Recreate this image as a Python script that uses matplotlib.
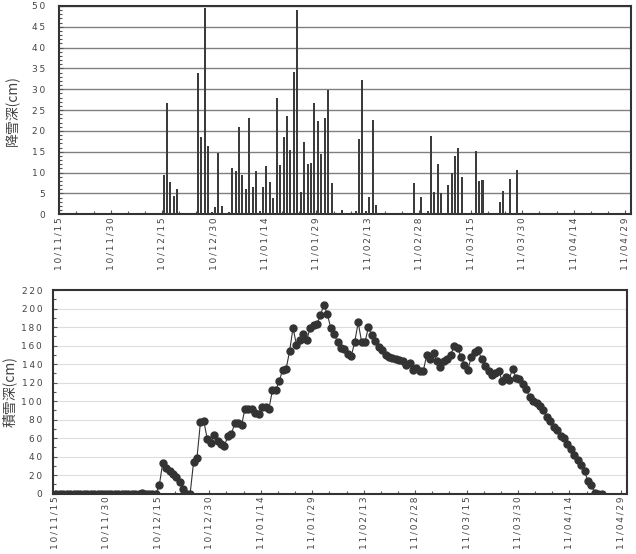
import numpy as np
import matplotlib
matplotlib.use("Agg")
import matplotlib.pyplot as plt
from matplotlib.ticker import MultipleLocator, FuncFormatter

# ==== Data (day index 0 = 2010/11/15) ====
DATE_LABELS = ["10/11/15", "10/11/30", "10/12/15", "10/12/30", "11/01/14", "11/01/29",
               "11/02/13", "11/02/28", "11/03/15", "11/03/30", "11/04/14", "11/04/29"]
LABEL_DAYS = [0, 15, 30, 45, 60, 75, 90, 105, 120, 135, 150, 165]

# daily snowfall (cm)
SNOW_DAY = [30, 31, 32, 33, 34,
            40, 41, 42, 43, 44, 45, 46, 47, 48, 49,
            50, 51, 52, 53, 54, 55, 56, 57, 58, 59,
            60, 61, 62, 63, 64, 65, 66, 67, 68, 69,
            70, 71, 72, 73, 74, 75, 76, 77, 78, 79,
            81, 82, 83, 86, 87, 88, 89, 90, 91, 92,
            103, 105, 107, 108, 109, 110, 111, 113, 114, 115, 116, 117,
            121, 122, 123, 128, 129, 131, 132, 133]
SNOW_CM = [9.5, 26.8, 7.7, 4.4, 6.0,
           33.8, 18.5, 49.5, 16.5, 0.5, 1.7, 14.6, 2.0, 0.4, 0.5,
           11.0, 10.3, 21.0, 9.5, 6.0, 23.0, 6.5, 10.5, 0.8, 6.6,
           11.6, 7.8, 3.9, 28.0, 11.8, 18.5, 23.5, 15.5, 34.2, 49.0,
           5.3, 17.3, 12.0, 12.2, 26.8, 22.4, 14.5, 23.0, 29.8, 7.4,
           0.4, 1.1, 0.3, 0.9, 18.0, 32.2, 0.8, 4.1, 22.6, 2.2,
           7.4, 4.2, 0.8, 18.8, 5.3, 12.1, 5.1, 7.0, 9.8, 13.9, 15.8, 8.9,
           15.2, 8.0, 8.2, 3.0, 5.7, 8.5, 0.4, 10.6]

# daily snow depth (cm), days 0..159
DEPTH = ([0] * 25 + [1] + [0] * 4 +
         [9, 33, 28, 24, 21, 18, 13, 5, 0, 0,
          34, 39, 77, 78, 59, 55, 63, 57, 54, 52,
          62, 64, 76, 76, 74, 92, 91, 91, 87, 86,
          94, 94, 92, 112, 112, 122, 134, 135, 154, 179,
          161, 166, 172, 166, 179, 182, 183, 193, 204, 194,
          179, 172, 164, 157, 156, 151, 149, 164, 185, 164,
          164, 180, 171, 165, 158, 155, 150, 148, 147, 145,
          144, 143, 139, 141, 134, 136, 133, 133, 150, 145,
          152, 143, 137, 143, 146, 150, 160, 157, 148, 139,
          134, 148, 153, 155, 145, 138, 132, 128, 130, 132,
          122, 126, 123, 135, 125, 124, 118, 113, 104, 100,
          98, 95, 90, 83, 78, 72, 69, 62, 60, 54,
          48, 42, 36, 31, 24, 14, 9, 1, 0, 0])

JP_FONT = ["Noto Sans CJK JP", "DejaVu Sans"]
TEXT_C = "#444444"
DARK = "#333333"


def spaced(s):
    return "\u2009".join(s)


def style_axis(ax, ypad):
    ax.set_xticks(LABEL_DAYS)
    ax.set_xticklabels([spaced(s) for s in DATE_LABELS], rotation=90)
    ax.xaxis.set_minor_locator(MultipleLocator(5))
    ax.yaxis.set_major_formatter(FuncFormatter(lambda v, p: spaced(str(int(v)))))
    ax.tick_params(which="both", direction="in", color="#555555", labelcolor=TEXT_C,
                   labelsize=6.5, top=False, right=False)
    ax.tick_params(which="major", length=3, width=0.8)
    ax.tick_params(which="minor", length=2.5, width=0.8)
    ax.tick_params(axis="y", pad=ypad)
    ax.tick_params(axis="x", pad=2)
    for sp in ax.spines.values():
        sp.set_color(DARK)
        sp.set_linewidth(1.5)
    ax.set_axisbelow(True)


fig = plt.figure(figsize=(6.36, 5.54), dpi=100)

# ==== Top: daily snowfall ====
ax1 = fig.add_axes([0.0932, 0.6132, 0.8989, 0.376])
ax1.bar(np.array(SNOW_DAY) + 0.4, SNOW_CM, width=0.6, color="#3c3c3c", zorder=3)
ax1.set_xlim(0, 166.7)
ax1.set_ylim(0, 50)
ax1.yaxis.set_major_locator(MultipleLocator(5))
ax1.yaxis.set_minor_locator(MultipleLocator(1))
ax1.grid(axis="y", color="#808080", linewidth=1.0)
style_axis(ax1, 10)
ax1.set_ylabel("降雪深(cm)", fontsize=10, family=JP_FONT, color=TEXT_C)
ax1.yaxis.set_label_coords(-0.068, 0.5)

# ==== Bottom: snow depth ====
ax2 = fig.add_axes([0.0838, 0.1089, 0.9016, 0.3676])
days = np.arange(len(DEPTH))
ax2.plot(days + 0.4, DEPTH, color=DARK, linewidth=0.8, marker="o", markersize=5,
         markerfacecolor=DARK, markeredgecolor=DARK, zorder=3)
ax2.set_xlim(-0.5, 166.7)
ax2.set_ylim(0, 220)
ax2.yaxis.set_major_locator(MultipleLocator(20))
ax2.yaxis.set_minor_locator(MultipleLocator(10))
ax2.grid(axis="y", color="#dddddd", linewidth=0.8)
style_axis(ax2, 8)
ax2.set_ylabel("積雪深(cm)", fontsize=10, family=JP_FONT, color=TEXT_C)
ax2.yaxis.set_label_coords(-0.064, 0.5)

fig.savefig("out.png", dpi=100)
